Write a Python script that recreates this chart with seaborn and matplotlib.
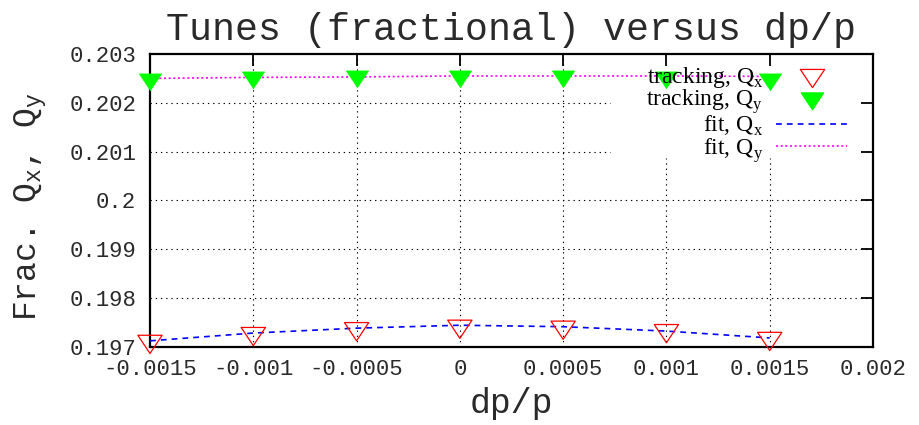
import matplotlib
matplotlib.use("Agg")
import matplotlib.pyplot as plt
from matplotlib.path import Path
from matplotlib.lines import Line2D
import pandas as pd
import seaborn as sns

# Momentum offsets and fractional tunes
dpp = [-0.0015, -0.001, -0.0005, 0.0, 0.0005, 0.001, 0.0015]
qx_tracking = [0.19711, 0.19727, 0.19737, 0.19742, 0.19740, 0.19733, 0.19717]
qy_tracking = [0.20249, 0.20253, 0.20255, 0.20255, 0.20255, 0.20253, 0.20248]
qx_fit = [0.19712, 0.19728, 0.19738, 0.19744, 0.19741, 0.19732, 0.19718]
qy_fit = [0.20250, 0.20252, 0.20253, 0.20255, 0.20255, 0.20255, 0.20254]

xticks = [-0.0015, -0.001, -0.0005, 0.0, 0.0005, 0.001, 0.0015, 0.002]
xtick_labels = ["-0.0015", "-0.001", "-0.0005", "0", "0.0005", "0.001", "0.0015", "0.002"]
yticks = [0.197, 0.198, 0.199, 0.2, 0.201, 0.202, 0.203]
ytick_labels = ["0.197", "0.198", "0.199", "0.2", "0.201", "0.202", "0.203"]

labels = ["tracking, Q$_\\mathregular{x}$", "tracking, Q$_\\mathregular{y}$",
          "fit, Q$_\\mathregular{x}$", "fit, Q$_\\mathregular{y}$"]

df = pd.DataFrame({"dpp": dpp, "qx": qx_tracking, "qy": qy_tracking,
                   "qx_fit": qx_fit, "qy_fit": qy_fit})

sns.set_theme(style="white")
plt.rcParams["font.family"] = ["Liberation Mono", "DejaVu Sans"]

# gnuplot-like downward triangle centred on its centroid
tri_down = Path([(-4 / 3, 2 / 3), (4 / 3, 2 / 3), (0, -4 / 3), (-4 / 3, 2 / 3)],
                [Path.MOVETO, Path.LINETO, Path.LINETO, Path.CLOSEPOLY])

fig = plt.figure(figsize=(9.2, 4.25), dpi=100)
ax = fig.add_axes([150 / 920, 1 - 346.7 / 425, 723 / 920, 292.7 / 425])

RED, GREEN, BLUE, MAGENTA = "#ff0000", "#00ff00", "#0000ff", "#ff00ff"
TEXT = "#2a2a2a"

sns.lineplot(data=df, x="dpp", y="qx_fit", ax=ax, color=BLUE, lw=1.2,
             linestyle=(0, (3.5, 3.0)), estimator=None, sort=False, zorder=3)
sns.lineplot(data=df, x="dpp", y="qy_fit", ax=ax, color=MAGENTA, lw=1.2,
             linestyle=(0, (1.2, 1.6)), estimator=None, sort=False, zorder=3)

ms_open, ms_fill = 17.5, 16.0
sns.scatterplot(data=df, x="dpp", y="qx", ax=ax, marker=tri_down, s=ms_open ** 2,
                facecolor="none", edgecolor=RED, linewidth=0.9, clip_on=False, zorder=4)
sns.scatterplot(data=df, x="dpp", y="qy", ax=ax, marker=tri_down, s=ms_fill ** 2,
                color=GREEN, edgecolor=GREEN, linewidth=0.5, clip_on=False, zorder=4)

ax.set_xlim(-0.0015, 0.002)
ax.set_ylim(0.197, 0.203)
ax.set_xticks(xticks, xtick_labels)
ax.set_yticks(yticks, ytick_labels)

# Dotted grid, left open where the key sits
key_x0, key_y0 = 0.636, 0.645
grid_kw = dict(color="black", lw=0.8, linestyle=(0, (1.2, 3.5)), zorder=1)
for xv in xticks[1:-1]:
    xa = (xv - xticks[0]) / (xticks[-1] - xticks[0])
    ax.axvline(xv, ymin=0, ymax=key_y0 if xa > key_x0 else 1, **grid_kw)
for yv in yticks[1:-1]:
    ya = (yv - yticks[0]) / (yticks[-1] - yticks[0])
    ax.axhline(yv, xmin=0, xmax=key_x0 if ya > key_y0 else 1, **grid_kw)

for sp in ax.spines.values():
    sp.set_visible(True)
    sp.set_color("black")
    sp.set_linewidth(1.6)
ax.tick_params(axis="both", which="major", direction="in", length=8.5, width=1.3,
               color="black", top=True, right=True, labelsize=16, labelcolor=TEXT)
ax.tick_params(axis="x", pad=9)
ax.tick_params(axis="y", pad=10)

ax.set_title("Tunes (fractional) versus dp/p", fontsize=27.5, pad=10, color=TEXT)
ax.set_xlabel("dp/p", fontsize=25, labelpad=5, color=TEXT)
ax.set_ylabel("Frac. Q$_\\mathregular{x}$, Q$_\\mathregular{y}$", fontsize=23.8, color=TEXT)
ax.yaxis.set_label_coords(-101 / 723, 0.48)

handles = [
    Line2D([], [], linestyle="none", marker=tri_down, markersize=ms_open,
           markerfacecolor="none", markeredgecolor=RED, markeredgewidth=0.9),
    Line2D([], [], linestyle="none", marker=tri_down, markersize=ms_fill,
           markerfacecolor=GREEN, markeredgecolor=GREEN),
    Line2D([], [], color=BLUE, lw=1.2, linestyle=(0, (3.5, 3.0))),
    Line2D([], [], color=MAGENTA, lw=1.2, linestyle=(0, (1.2, 1.6))),
]
leg = ax.legend(handles, labels, loc="upper right", bbox_to_anchor=(0.964, 0.962),
                frameon=False, markerfirst=False, handlelength=3.0, handletextpad=0.55,
                labelspacing=-0.1, borderpad=0, borderaxespad=0,
                prop={"family": "Liberation Serif", "size": 17})
for t in leg.get_texts():
    t.set_ha("right")
    t.set_color("black")
leg._legend_box.align = "right"
leg.set_zorder(5)

fig.savefig("out.png", dpi=100)
